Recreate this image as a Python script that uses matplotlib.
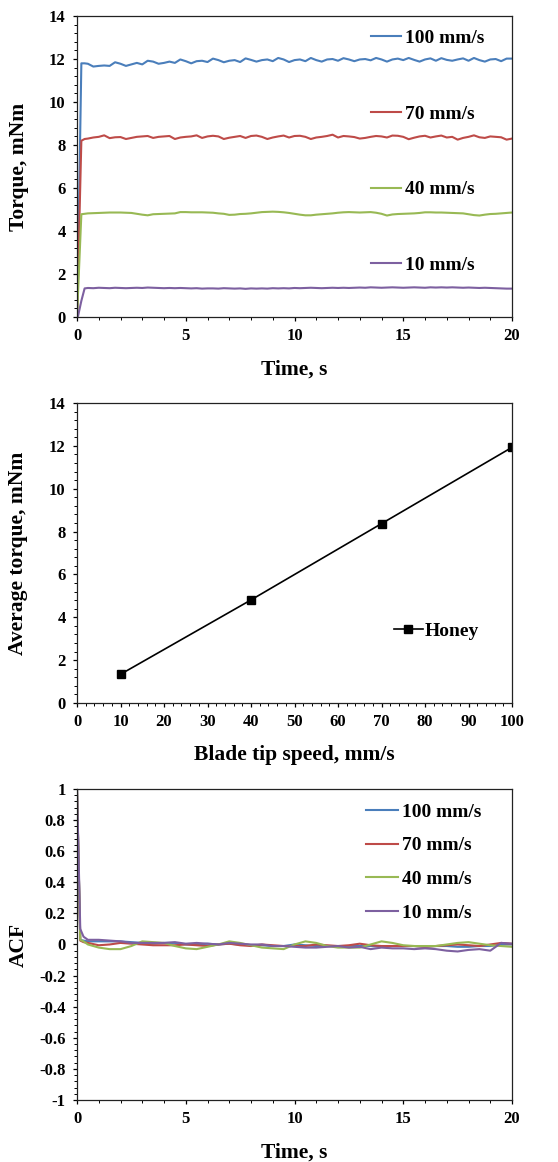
import matplotlib
matplotlib.use('Agg')
import matplotlib.pyplot as plt
from matplotlib.ticker import MultipleLocator, FuncFormatter
import numpy as np

plt.rcParams.update({
    'font.family': 'Liberation Serif',
    'font.weight': 'bold',
    'axes.linewidth': 0.9,
    'xtick.direction': 'out',
    'ytick.direction': 'out',
})

C_100 = '#4A7EBB'
C_70 = '#BE4B48'
C_40 = '#98B954'
C_10 = '#7D60A0'

speeds = ['100 mm/s', '70 mm/s', '40 mm/s', '10 mm/s']

# Torque traces (sampling grid: start-up points then every 0.25 s)
t_torque = [0, 0.05, 0.2, 0.35] + list(np.arange(0.5, 20.01, 0.25))

torque_100 = [0, 2.5, 11.8, 11.8,
              11.78, 11.65, 11.68, 11.7, 11.68, 11.85, 11.78, 11.68, 11.75, 11.82,
              11.75, 11.92, 11.88, 11.78, 11.82, 11.88, 11.82, 11.98, 11.9,
              11.8, 11.9, 11.92, 11.86, 12.02, 11.95, 11.85, 11.92, 11.95, 11.86,
              12.03, 11.96, 11.88, 11.95, 11.98, 11.9, 12.05, 11.98, 11.86, 11.95,
              11.98, 11.9, 12.05, 11.95, 11.88, 11.98, 12.0, 11.92, 12.04, 11.98,
              11.9, 11.98, 12.0, 11.94, 12.05, 11.98, 11.88, 11.98, 12.02, 11.95,
              12.05, 11.96, 11.88, 11.98, 12.03, 11.92, 12.04, 11.96, 11.92, 11.98,
              12.03, 11.92, 12.05, 11.95, 11.88, 11.98, 12.0, 11.9, 12.02, 12.02]
torque_70 = [0, 2.0, 8.2, 8.28,
             8.3, 8.35, 8.38, 8.45, 8.32, 8.36, 8.37, 8.28, 8.33, 8.38,
             8.4, 8.42, 8.33, 8.38, 8.4, 8.42, 8.28, 8.35, 8.38,
             8.4, 8.45, 8.33, 8.4, 8.43, 8.4, 8.28, 8.34, 8.38, 8.42,
             8.33, 8.42, 8.44, 8.38, 8.28, 8.35, 8.4, 8.44, 8.35, 8.42,
             8.43, 8.38, 8.28, 8.35, 8.38, 8.42, 8.48, 8.35, 8.42, 8.4,
             8.37, 8.3, 8.33, 8.38, 8.42, 8.4, 8.35, 8.44, 8.43, 8.38,
             8.27, 8.34, 8.4, 8.43, 8.35, 8.4, 8.44, 8.35, 8.38, 8.25,
             8.33, 8.38, 8.45, 8.36, 8.33, 8.4, 8.38, 8.36, 8.25, 8.3]
torque_40 = [0, 1.2, 4.78, 4.8,
             4.82, 4.83, 4.84, 4.85, 4.86, 4.86, 4.86, 4.85, 4.84, 4.8,
             4.76, 4.73, 4.78, 4.79, 4.8, 4.81, 4.82, 4.88, 4.88,
             4.87, 4.87, 4.87, 4.86, 4.85, 4.82, 4.8, 4.75, 4.76, 4.79,
             4.8, 4.82, 4.85, 4.88, 4.89, 4.9, 4.89, 4.87, 4.84, 4.8,
             4.76, 4.73, 4.73, 4.76, 4.78, 4.8, 4.82, 4.85, 4.87, 4.88,
             4.87, 4.86, 4.87, 4.88, 4.85, 4.8, 4.72, 4.77, 4.79, 4.8,
             4.81, 4.82, 4.84, 4.87, 4.87, 4.86, 4.86, 4.85, 4.84, 4.83,
             4.82, 4.78, 4.74, 4.72, 4.76, 4.79, 4.8, 4.82, 4.84, 4.86]
torque_10 = [0, 0.05, 0.75, 1.33,
             1.35, 1.34, 1.36, 1.35, 1.34, 1.36, 1.35, 1.34, 1.35, 1.36,
             1.35, 1.37, 1.36, 1.35, 1.34, 1.35, 1.34, 1.35, 1.34,
             1.33, 1.34, 1.32, 1.33, 1.33, 1.32, 1.34, 1.33, 1.32, 1.33,
             1.31, 1.33, 1.32, 1.33, 1.32, 1.34, 1.33, 1.34, 1.33, 1.35,
             1.34, 1.35, 1.36, 1.35, 1.34, 1.35, 1.36, 1.35, 1.36, 1.35,
             1.36, 1.37, 1.36, 1.38, 1.37, 1.36, 1.37, 1.38, 1.37, 1.36,
             1.37, 1.38, 1.37, 1.36, 1.38, 1.37, 1.38, 1.37, 1.38, 1.37,
             1.36, 1.37, 1.36, 1.35, 1.36, 1.35, 1.34, 1.33, 1.32, 1.32]

# Average torque vs blade tip speed
tip_speed = [10, 40, 70, 100]
avg_torque = [1.34, 4.81, 8.37, 11.93]

# Autocorrelation (lag grid: start-up points then every 0.5 s)
t_acf = [0, 0.15, 0.3] + list(np.arange(0.5, 20.01, 0.5))

acf_100 = [1.0, 0.03, 0.025,
           0.02, 0.02, 0.02, 0.02, 0.015, 0.01, 0.005, 0.01, 0.01, 0.0,
           0.0, 0.005, 0.0, 0.005, 0.0, -0.005, -0.005, -0.01, -0.01, 0.0,
           -0.005, -0.01, -0.01, -0.01, -0.01, -0.01, -0.01, -0.015, -0.01, -0.01,
           -0.01, -0.015, -0.01, -0.01, -0.015, -0.015, -0.01, -0.01, 0.0, 0.0]
acf_70 = [1.0, 0.025, 0.015,
          0.01, -0.005, 0.0, 0.01, 0.005, 0.0, -0.005, -0.005, -0.005, 0.0,
          -0.005, -0.01, 0.0, 0.005, -0.005, -0.01, 0.0, -0.005, -0.01, -0.01,
          -0.01, 0.0, -0.005, -0.01, -0.005, 0.005, -0.005, -0.01, -0.01, -0.01,
          -0.01, -0.015, -0.01, -0.005, 0.0, -0.005, -0.01, 0.0, 0.01, 0.005]
acf_40 = [1.0, 0.03, 0.02,
          0.0, -0.02, -0.03, -0.03, -0.01, 0.02, 0.015, 0.01, -0.01, -0.025,
          -0.03, -0.015, 0.0, 0.02, 0.01, -0.005, -0.02, -0.025, -0.03, 0.0,
          0.02, 0.01, -0.01, -0.02, -0.02, -0.02, 0.0, 0.02, 0.01, -0.005,
          -0.01, -0.01, -0.01, 0.0, 0.01, 0.015, 0.005, -0.005, -0.01, -0.015]
acf_10 = [1.0, 0.1, 0.05,
          0.03, 0.03, 0.025, 0.02, 0.01, 0.01, 0.01, 0.01, 0.015, 0.005,
          0.01, 0.005, 0.0, 0.01, 0.005, 0.0, 0.0, -0.01, -0.01, -0.015,
          -0.02, -0.02, -0.015, -0.01, -0.02, -0.015, -0.03, -0.02, -0.025, -0.025,
          -0.03, -0.025, -0.03, -0.04, -0.045, -0.035, -0.03, -0.04, 0.01, 0.005]

LBL = 15.5
TCK = 12
LEG = 14


def style_axes(ax):
    ax.tick_params(which='major', length=3.2, width=0.9, labelsize=TCK, pad=5)
    ax.tick_params(which='minor', length=2.2, width=0.7)
    ax.tick_params(top=False, right=False)
    for s in ax.spines.values():
        s.set_color('#222222')


fig = plt.figure(figsize=(5.58, 11.62), dpi=100)
fig.patch.set_facecolor('white')

# Panel 1 - torque vs time
ax1 = fig.add_axes([0.138, 0.7272, 0.7796, 0.259])
ax1.plot(t_torque, torque_100, color=C_100, lw=1.5, label=speeds[0])
ax1.plot(t_torque, torque_70, color=C_70, lw=1.5, label=speeds[1])
ax1.plot(t_torque, torque_40, color=C_40, lw=1.5, label=speeds[2])
ax1.plot(t_torque, torque_10, color=C_10, lw=1.5, label=speeds[3])
ax1.set_xlim(0, 20)
ax1.set_ylim(0, 14)
ax1.xaxis.set_major_locator(MultipleLocator(5))
ax1.xaxis.set_minor_locator(MultipleLocator(1))
ax1.yaxis.set_major_locator(MultipleLocator(2))
ax1.yaxis.set_minor_locator(MultipleLocator(0.4))
style_axes(ax1)
ax1.set_xlabel('Time, s', fontsize=LBL, fontweight='bold')
ax1.set_ylabel('Torque, mNm', fontsize=LBL, fontweight='bold')
ax1.xaxis.set_label_coords(0.5, -0.143)
ax1.yaxis.set_label_coords(-0.11, 0.5)
ax1.legend(loc='upper left', bbox_to_anchor=(0.658, 0.982), frameon=False,
           fontsize=LEG, handlelength=1.55, handletextpad=0.2,
           labelspacing=2.99, borderaxespad=0)

# Panel 2 - average torque vs tip speed
ax2 = fig.add_axes([0.138, 0.395, 0.7796, 0.2582])
ax2.plot(tip_speed, avg_torque, color='black', lw=1.2, marker='s',
         markersize=5.5, label='Honey')
ax2.set_xlim(0, 100)
ax2.set_ylim(0, 14)
ax2.xaxis.set_major_locator(MultipleLocator(10))
ax2.xaxis.set_minor_locator(MultipleLocator(2))
ax2.yaxis.set_major_locator(MultipleLocator(2))
ax2.yaxis.set_minor_locator(MultipleLocator(0.4))
style_axes(ax2)
ax2.set_xlabel('Blade tip speed, mm/s', fontsize=LBL, fontweight='bold')
ax2.set_ylabel('Average torque, mNm', fontsize=LBL, fontweight='bold')
ax2.xaxis.set_label_coords(0.5, -0.14)
ax2.yaxis.set_label_coords(-0.113, 0.5)
ax2.legend(loc='center left', bbox_to_anchor=(0.71, 0.24), frameon=False,
           fontsize=LEG, handlelength=1.5, handletextpad=0.1, borderaxespad=0)

# Panel 3 - autocorrelation
ax3 = fig.add_axes([0.138, 0.0534, 0.7796, 0.2676])
ax3.plot(t_acf, acf_100, color=C_100, lw=1.5, label=speeds[0])
ax3.plot(t_acf, acf_70, color=C_70, lw=1.5, label=speeds[1])
ax3.plot(t_acf, acf_40, color=C_40, lw=1.5, label=speeds[2])
ax3.plot(t_acf, acf_10, color=C_10, lw=1.5, label=speeds[3])
ax3.set_xlim(0, 20)
ax3.set_ylim(-1, 1)
ax3.xaxis.set_major_locator(MultipleLocator(5))
ax3.xaxis.set_minor_locator(MultipleLocator(1))
ax3.yaxis.set_major_locator(MultipleLocator(0.2))
ax3.yaxis.set_minor_locator(MultipleLocator(0.04))
ax3.yaxis.set_major_formatter(FuncFormatter(lambda v, _: f'{round(v, 1):g}'.replace('−', '-')))
style_axes(ax3)
ax3.set_xlabel('Time, s', fontsize=LBL, fontweight='bold')
ax3.set_ylabel('ACF', fontsize=LBL, fontweight='bold')
ax3.xaxis.set_label_coords(0.5, -0.138)
ax3.yaxis.set_label_coords(-0.11, 0.5)
ax3.legend(loc='upper left', bbox_to_anchor=(0.646, 0.98), frameon=False,
           fontsize=LEG, handlelength=1.65, handletextpad=0.2,
           labelspacing=0.83, borderaxespad=0)

fig.savefig('out.png', dpi=100, facecolor='white')
